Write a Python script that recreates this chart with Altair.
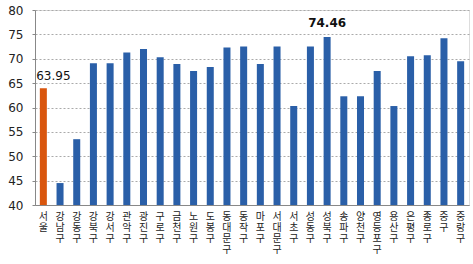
import altair as alt
import pandas as pd

districts = ["서울", "강남구", "강동구", "강북구", "강서구", "관악구", "광진구", "구로구",
             "금천구", "노원구", "도봉구", "동대문구", "동작구", "마포구", "서대문구", "서초구",
             "성동구", "성북구", "송파구", "양천구", "영등포구", "용산구", "은평구", "종로구",
             "중구", "중랑구"]
values = [63.95, 44.5, 53.5, 69.1, 69.1, 71.3, 72.0, 70.3,
          68.9, 67.5, 68.3, 72.3, 72.5, 68.9, 72.5, 60.3,
          72.5, 74.46, 62.3, 62.3, 67.5, 60.3, 70.5, 70.7,
          74.2, 69.5]
labels = ["63.95"] + [""] * 16 + ["74.46"] + [""] * 8
y_ticks = [40, 45, 50, 55, 60, 65, 70, 75, 80]

df = pd.DataFrame({"district": districts, "value": values,
                   "grp": ["seoul" if d == "서울" else "gu" for d in districts],
                   "label": labels})

yscale = alt.Scale(domain=[40, 80], nice=False, zero=False)
yaxis = alt.Axis(values=y_ticks, labelOverlap=False, labelFont="DejaVu Sans",
                 labelFontSize=12, labelColor="#222222", labelPadding=9,
                 tickSize=3, tickColor="#888888", domainColor="#888888",
                 grid=True, gridDash=[2, 2], gridColor="#aaaaaa", title=None)
xscale = alt.Scale(paddingInner=0.58, paddingOuter=0.29)
xaxis = alt.Axis(labels=False, ticks=False, domainColor="#888888", grid=False, title=None)

def xenc():
    return alt.X("district:N", sort=districts, scale=xscale, axis=xaxis)

bars = alt.Chart(df).mark_bar(clip=True).encode(
    x=xenc(),
    y=alt.Y("value:Q", scale=yscale, axis=yaxis),
    y2=alt.datum(40),
    color=alt.Color("grp:N", scale=alt.Scale(domain=["seoul", "gu"],
                                             range=["#D9560E", "#2A5FA8"]), legend=None),
)

xlab = alt.Chart(df).transform_calculate(
    chars="split(datum.district, '')"
).mark_text(font="Noto Sans CJK KR", fontSize=10, lineHeight=11,
            baseline="top", color="#222222").encode(
    x=xenc(),
    y=alt.value(202),
    text="chars:N",
)

t1 = alt.Chart(df[df["district"] == "서울"]).mark_text(
    font="DejaVu Sans", fontSize=12, dx=10, dy=-12, color="#111111").encode(
    x=xenc(), y=alt.Y("value:Q", scale=yscale, axis=yaxis), text="label:N")

t2 = alt.Chart(df[df["district"] == "성북구"]).mark_text(
    font="DejaVu Sans", fontSize=12, fontWeight="bold", dy=-14, color="#111111").encode(
    x=xenc(), y=alt.Y("value:Q", scale=yscale, axis=yaxis), text="label:N")

chart = (bars + xlab + t1 + t2).properties(
    width=434, height=195,
    autosize=alt.AutoSizeParams(type="none"),
    padding={"left": 35, "top": 10, "right": 4, "bottom": 59},
).configure_view(stroke=None).configure(background="white")

chart.save("out.html", embed_options={"renderer": "svg", "actions": False})
